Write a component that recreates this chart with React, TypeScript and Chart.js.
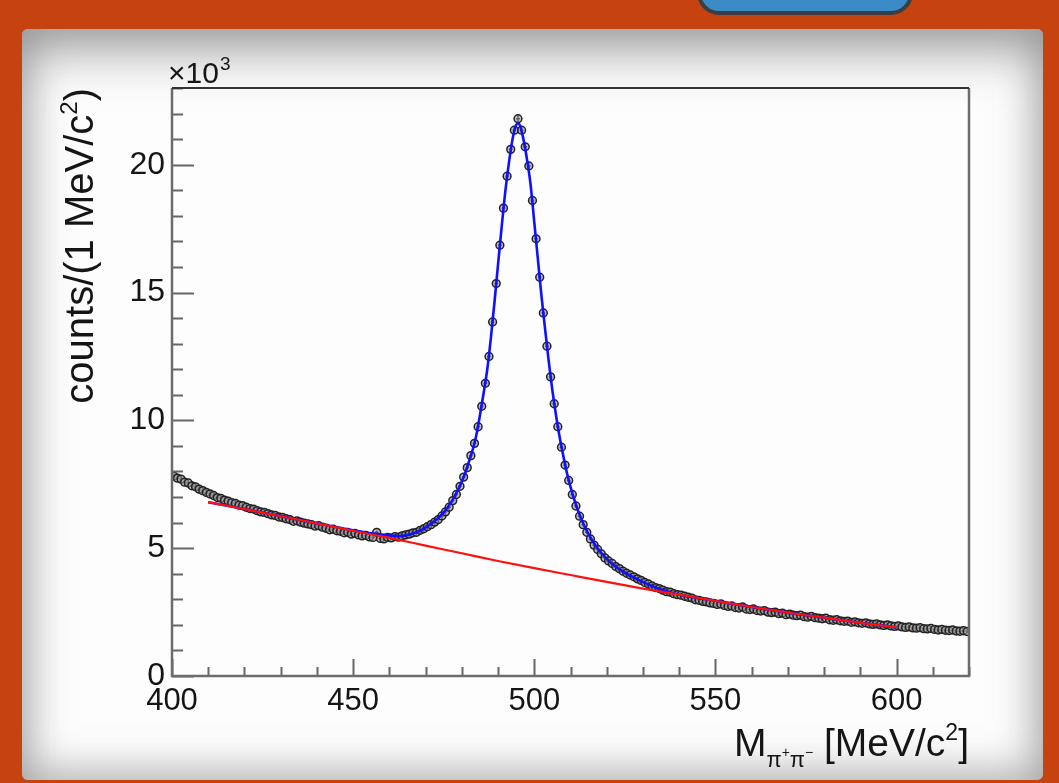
import { useEffect, useRef } from 'react';
import { Chart, registerables } from 'chart.js';

Chart.register(...registerables);

// ---------- data (counts in units of 10^3 per 1 MeV/c^2 bin) ----------
const BIN_LOW = 400;
const BIN_WIDTH = 1;

const counts = [
  7.82, 7.74, 7.70, 7.58, 7.55, 7.44, 7.40, 7.31, 7.25, 7.18,
  7.12, 7.06, 6.98, 6.95, 6.88, 6.84, 6.78, 6.75, 6.68, 6.66,
  6.60, 6.55, 6.53, 6.47, 6.42, 6.40, 6.35, 6.30, 6.28, 6.22,
  6.20, 6.15, 6.12, 6.05, 6.07, 6.02, 5.98, 5.95, 5.92, 5.86,
  5.88, 5.82, 5.78, 5.72, 5.74, 5.68, 5.66, 5.60, 5.62, 5.55,
  5.58, 5.52, 5.48, 5.50, 5.44, 5.42, 5.62, 5.38, 5.36, 5.42,
  5.40, 5.45, 5.43, 5.48, 5.52, 5.55, 5.60, 5.62, 5.70, 5.76,
  5.84, 5.92, 6.02, 6.12, 6.26, 6.42, 6.60, 6.86, 7.10, 7.42,
  7.78, 8.15, 8.62, 9.10, 9.75, 10.55, 11.45, 12.50, 13.85, 15.35,
  16.85, 18.30, 19.55, 20.60, 21.35, 21.80, 21.35, 20.70, 19.95, 18.60,
  17.10, 15.60, 14.20, 12.90, 11.70, 10.65, 9.75, 8.95, 8.25, 7.65,
  7.10, 6.65, 6.25, 5.92, 5.62, 5.36, 5.12, 4.95, 4.78, 4.62,
  4.50, 4.40, 4.28, 4.20, 4.10, 4.02, 3.95, 3.88, 3.80, 3.74,
  3.66, 3.60, 3.52, 3.46, 3.42, 3.36, 3.30, 3.28, 3.22, 3.18,
  3.16, 3.12, 3.08, 3.05, 2.98, 2.96, 2.92, 2.90, 2.86, 2.84,
  2.80, 2.82, 2.76, 2.72, 2.74, 2.68, 2.66, 2.70, 2.62, 2.60,
  2.62, 2.56, 2.54, 2.56, 2.50, 2.48, 2.50, 2.44, 2.46, 2.40,
  2.42, 2.38, 2.36, 2.38, 2.32, 2.30, 2.33, 2.28, 2.26, 2.24,
  2.26, 2.20, 2.18, 2.20, 2.16, 2.14, 2.15, 2.10, 2.12, 2.08,
  2.06, 2.08, 2.04, 2.02, 2.04, 2.00, 1.98, 2.00, 1.96, 1.94,
  1.96, 1.92, 1.90, 1.92, 1.88, 1.87, 1.89, 1.85, 1.84, 1.86,
  1.82, 1.80, 1.82, 1.79, 1.78, 1.80, 1.76, 1.75, 1.77, 1.74,
];

// total fit (signal + background), blue
const fitX = [
  410, 420, 430, 440, 450, 455, 460, 463, 466, 469,
  472, 475, 477, 479, 481, 482, 483, 484, 485, 486,
  487, 488, 489, 490, 491, 492, 493, 494, 495, 495.5,
  496, 497, 498, 499, 500, 501, 502, 503, 504, 505,
  506, 507, 508, 509, 510, 512, 514, 516, 518, 520,
  522, 524, 526, 528, 530, 532, 535, 540, 550, 560,
  570, 580, 590, 600,
];
const fitTotal = [
  6.80, 6.53, 6.25, 5.97, 5.70, 5.58, 5.50, 5.47, 5.55, 5.72,
  6.00, 6.40, 6.78, 7.30, 7.96, 8.40, 8.85, 9.42, 10.20, 11.05,
  11.97, 13.20, 14.60, 16.10, 17.57, 18.95, 20.07, 21.00, 21.55, 21.62,
  21.55, 21.00, 20.20, 19.20, 17.75, 16.30, 14.85, 13.55, 12.30, 11.17,
  10.20, 9.35, 8.62, 7.95, 7.40, 6.50, 5.82, 5.30, 4.90, 4.58,
  4.33, 4.13, 3.96, 3.82, 3.68, 3.55, 3.38, 3.18, 2.94, 2.70,
  2.48, 2.28, 2.08, 1.90,
];

// background component, red
const bkgX = [410, 420, 430, 440, 450, 460, 470, 480, 490, 500, 510, 520, 530, 540, 550, 560, 570, 580, 590, 600];
const bkgY = [6.80, 6.53, 6.25, 5.97, 5.68, 5.40, 5.10, 4.80, 4.50, 4.22, 3.95, 3.68, 3.42, 3.18, 2.94, 2.70, 2.48, 2.28, 2.08, 1.90];

const xTickLabels = [400, 450, 500, 550, 600];
const yTickLabels = [0, 5, 10, 15, 20];

const X_MIN = 400;
const X_MAX = 620;
const Y_MIN = 0;
const Y_MAX = 23;

const FONT = '"Liberation Sans", Arial, Helvetica, sans-serif';

// ---------- ROOT-like frame / ticks / titles ----------
const rootStyle = {
  id: 'rootStyle',
  beforeDatasetsDraw(chart: any) {
    const { ctx, scales } = chart;
    const x = scales.x;
    const y = scales.y;
    ctx.save();
    ctx.strokeStyle = '#111';
    ctx.lineWidth = 1.4;
    counts.forEach((v, i) => {
      const cx = BIN_LOW + (i + 0.5) * BIN_WIDTH;
      const err = Math.sqrt(v * 1000) / 1000;
      const px = x.getPixelForValue(cx);
      const py = y.getPixelForValue(v);
      const t = y.getPixelForValue(v + err);
      const b = y.getPixelForValue(v - err);
      const l = x.getPixelForValue(cx - BIN_WIDTH / 2);
      const r = x.getPixelForValue(cx + BIN_WIDTH / 2);
      ctx.beginPath();
      ctx.moveTo(px, t);
      ctx.lineTo(px, b);
      ctx.moveTo(l, py);
      ctx.lineTo(r, py);
      ctx.stroke();
    });
    ctx.restore();
  },
  afterDraw(chart: any) {
    const { ctx, chartArea, scales } = chart;
    const x = scales.x;
    const y = scales.y;
    const { left, right, top, bottom } = chartArea;
    ctx.save();

    // inward ticks
    ctx.strokeStyle = '#666';
    ctx.lineWidth = 2;
    for (let v = Y_MIN; v <= Y_MAX; v += 1) {
      const py = Math.round(y.getPixelForValue(v)) + 0.5;
      const len = v % 5 === 0 ? 22 : 11;
      ctx.beginPath();
      ctx.moveTo(left, py);
      ctx.lineTo(left + len, py);
      ctx.stroke();
    }
    for (let v = X_MIN; v <= X_MAX; v += 10) {
      const px = Math.round(x.getPixelForValue(v)) + 0.5;
      const len = v % 50 === 0 ? 17 : 9;
      ctx.beginPath();
      ctx.moveTo(px, bottom);
      ctx.lineTo(px, bottom - len);
      ctx.stroke();
    }

    // frame
    ctx.lineWidth = 2.5;
    ctx.strokeStyle = '#6c6c6c';
    ctx.beginPath();
    ctx.moveTo(left, top);
    ctx.lineTo(left, bottom);
    ctx.lineTo(right, bottom);
    ctx.lineTo(right, top);
    ctx.stroke();
    ctx.strokeStyle = '#333';
    ctx.lineWidth = 2;
    ctx.beginPath();
    ctx.moveTo(left, top);
    ctx.lineTo(right, top);
    ctx.stroke();

    ctx.fillStyle = '#151515';
    ctx.textBaseline = 'alphabetic';

    // x10^3 multiplier
    ctx.textAlign = 'left';
    ctx.font = `30px ${FONT}`;
    ctx.fillText('\u00d710', left - 4, top - 5);
    const w10 = ctx.measureText('\u00d710').width;
    ctx.font = `19px ${FONT}`;
    ctx.fillText('3', left - 4 + w10 + 1, top - 18);

    // x-axis title: M_{pi+ pi-} [MeV/c^2], right aligned with frame
    const base = 756;
    const parts = [
      { t: 'M', s: 39, dy: 0 },
      { t: '\u03c0', s: 22, dy: 11 },
      { t: '+', s: 14, dy: 1 },
      { t: '\u03c0', s: 22, dy: 11 },
      { t: '\u2212', s: 14, dy: 1 },
      { t: ' [MeV/c', s: 39, dy: 0 },
      { t: '2', s: 23, dy: -16 },
      { t: ']', s: 39, dy: 0 },
    ];
    let total = 0;
    const widths = parts.map((p) => {
      ctx.font = `${p.s}px ${FONT}`;
      const w = ctx.measureText(p.t).width;
      total += w;
      return w;
    });
    let cx = right - total;
    parts.forEach((p, i) => {
      ctx.font = `${p.s}px ${FONT}`;
      ctx.fillText(p.t, cx, base + p.dy);
      cx += widths[i];
    });

    // y-axis title, rotated, right aligned with top of frame
    ctx.translate(93, top);
    ctx.rotate(-Math.PI / 2);
    const yparts = [
      { t: 'counts/(1 MeV/c', s: 40, dy: 0 },
      { t: '2', s: 24, dy: -16 },
      { t: ')', s: 40, dy: 0 },
    ];
    let ytotal = 0;
    const yw = yparts.map((p) => {
      ctx.font = `${p.s}px ${FONT}`;
      const w = ctx.measureText(p.t).width;
      ytotal += w;
      return w;
    });
    let tx = -ytotal;
    yparts.forEach((p, i) => {
      ctx.font = `${p.s}px ${FONT}`;
      ctx.fillText(p.t, tx, p.dy);
      tx += yw[i];
    });

    ctx.restore();
  },
};

function RootChart() {
  const ref = useRef<HTMLCanvasElement | null>(null);

  useEffect(() => {
    if (!ref.current) return;
    const points = counts.map((v, i) => ({ x: BIN_LOW + (i + 0.5) * BIN_WIDTH, y: v }));
    const fit = fitX.map((xv, i) => ({ x: xv, y: fitTotal[i] }));
    const bkg = bkgX.map((xv, i) => ({ x: xv, y: bkgY[i] }));

    const chart = new Chart(ref.current, {
      type: 'scatter',
      data: {
        datasets: [
          {
            type: 'line',
            label: 'background',
            data: bkg,
            borderColor: '#ff1010',
            borderWidth: 2.2,
            pointRadius: 0,
            cubicInterpolationMode: 'monotone',
            fill: false,
            order: 0,
          } as any,
          {
            type: 'line',
            label: 'fit',
            data: fit,
            borderColor: '#1010ff',
            borderWidth: 2.6,
            pointRadius: 0,
            cubicInterpolationMode: 'monotone',
            fill: false,
            order: 1,
          } as any,
          {
            type: 'scatter',
            label: 'data',
            data: points,
            pointStyle: 'circle',
            pointRadius: 3.9,
            backgroundColor: 'rgba(150,150,150,0.6)',
            borderColor: '#222',
            borderWidth: 1.5,
            order: 2,
          } as any,
        ],
      },
      options: {
        responsive: false,
        animation: false,
        events: [],
        layout: { padding: { left: 0, top: 88, right: 90, bottom: 0 } },
        plugins: {
          legend: { display: false },
          tooltip: { enabled: false },
          title: { display: false },
        },
        scales: {
          x: {
            type: 'linear',
            min: X_MIN,
            max: X_MAX,
            grid: { display: false, drawTicks: false },
            border: { display: false },
            afterBuildTicks: (scale: any) => {
              scale.ticks = xTickLabels.map((v) => ({ value: v }));
            },
            afterFit: (scale: any) => {
              scale.height = 107;
            },
            ticks: {
              autoSkip: false,
              maxRotation: 0,
              padding: 7,
              color: '#151515',
              font: { family: FONT, size: 31 },
              callback: (v: any) => String(v),
            },
          },
          y: {
            type: 'linear',
            min: Y_MIN,
            max: Y_MAX,
            grid: { display: false, drawTicks: false },
            border: { display: false },
            afterBuildTicks: (scale: any) => {
              scale.ticks = yTickLabels.map((v) => ({ value: v }));
            },
            afterFit: (scale: any) => {
              scale.width = 172;
            },
            ticks: {
              autoSkip: false,
              padding: 7,
              color: '#151515',
              font: { family: FONT, size: 32 },
              callback: (v: any) => String(v),
            },
          },
        },
      },
      plugins: [rootStyle],
    });
    return () => chart.destroy();
  }, []);

  return (
    <canvas
      ref={ref}
      width={1059}
      height={783}
      style={{ position: 'absolute', left: 0, top: 0, width: 1059, height: 783 }}
    />
  );
}

export default function App() {
  return (
    <div
      style={{
        position: 'fixed',
        left: 0,
        top: 0,
        width: 1059,
        height: 783,
        overflow: 'hidden',
        background: '#c6430f',
      }}
    >
      <div
        style={{
          position: 'absolute',
          left: 697,
          top: -32,
          width: 216,
          height: 47,
          boxSizing: 'border-box',
          background: '#3a8bc6',
          border: '4px solid #3b3e44',
          borderRadius: 22,
        }}
      />
      <div
        style={{
          position: 'absolute',
          left: 22,
          top: 29,
          width: 1021,
          height: 751,
          background: '#fdfdfd',
          borderRadius: 6,
          boxShadow:
            'inset 0 0 40px 8px rgba(105,105,105,0.55), inset 0 50px 50px -20px rgba(130,130,130,0.4)',
        }}
      />
      <RootChart />
    </div>
  );
}
